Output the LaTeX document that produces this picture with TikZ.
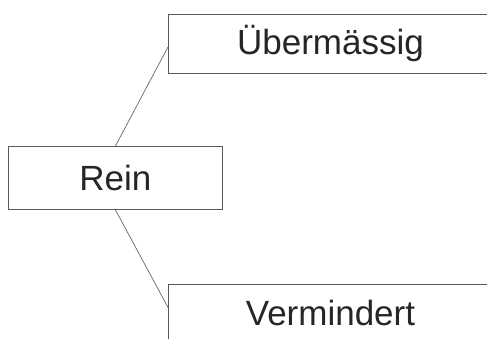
\documentclass[tikz,border=0pt]{standalone}
\usepackage{fontspec}
\setmainfont{Liberation Sans}
\usetikzlibrary{positioning}

\begin{document}
\begin{tikzpicture}[
    x=1pt, y=1pt,
    box/.style={rectangle, draw=black!65, line width=0.9pt, anchor=north west, align=center, text=black!85, font=\fontsize{35}{42}\selectfont},
    link/.style={draw=black!60, line width=0.7pt}
]
\useasboundingbox (0,0) rectangle (487,338);
\clip (0,0) rectangle (487,338);

% Grundform
\node[box, minimum width=214pt, minimum height=63pt] (rein) at (8,192) {Rein};

% Varianten
\node[box, minimum width=324pt, minimum height=59pt] (uber) at (168,324) {Übermässig};
\node[box, minimum width=324pt, minimum height=58pt] (vermindert) at (168,54) {Vermindert};

% Verbindungen
\draw[link] (rein.north) -- ([yshift=-3pt]uber.west);
\draw[link] (rein.south) -- ([yshift=6pt]vermindert.west);
\end{tikzpicture}
\end{document}
